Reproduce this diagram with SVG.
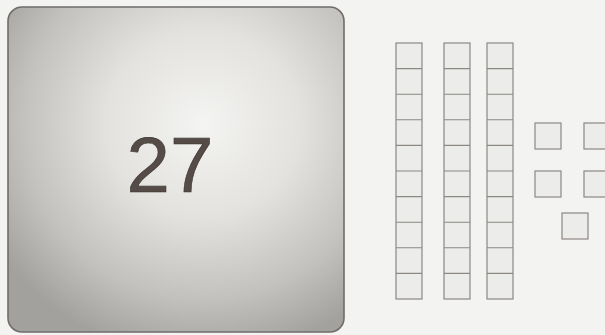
<svg xmlns="http://www.w3.org/2000/svg" width="605" height="335" viewBox="0 0 605 335">
  <style>
    .cell { fill: #ececea; stroke: #8c8884; stroke-width: 1.2; }
    .num { font-family: "Liberation Sans", Arial, sans-serif; font-size: 78px; fill: #554b47; stroke: #3a3330; stroke-width: 0.6; }
  </style>
  <defs>
    <radialGradient id="cardGrad" cx="0.58" cy="0.36" r="0.72">
      <stop offset="0" stop-color="#f4f4f2"/>
      <stop offset="0.4" stop-color="#e3e2df"/>
      <stop offset="0.75" stop-color="#c3c1be"/>
      <stop offset="1" stop-color="#a3a19d"/>
    </radialGradient>
    <g id="cube"><rect class="cell" x="0" y="0" width="26" height="26"/></g>
    <g id="rod">
      <rect class="cell" x="0" y="0" width="26" height="256"/>
      <path d="M0 25.6H26M0 51.2H26M0 76.8H26M0 102.4H26M0 128H26M0 153.6H26M0 179.2H26M0 204.8H26M0 230.4H26" stroke="#8c8884" stroke-width="1.1" fill="none"/>
    </g>
  </defs>
  <rect x="0" y="0" width="605" height="335" fill="#f3f3f1"/>

  <g id="card">
    <rect x="8" y="7" width="336" height="325" rx="14" fill="url(#cardGrad)" stroke="#6f6c69" stroke-width="1.6"/>
    <text class="num" x="170" y="192" text-anchor="middle">27</text>
  </g>

  <g id="tens">
    <use href="#rod" x="396" y="43"/>
    <use href="#rod" x="444" y="43"/>
    <use href="#rod" x="487" y="43"/>
  </g>

  <g id="ones">
    <use href="#cube" x="535" y="123"/>
    <use href="#cube" x="584" y="123"/>
    <use href="#cube" x="535" y="171"/>
    <use href="#cube" x="584" y="171"/>
    <use href="#cube" x="562" y="213"/>
  </g>

  <g id="connectors"/>
</svg>
